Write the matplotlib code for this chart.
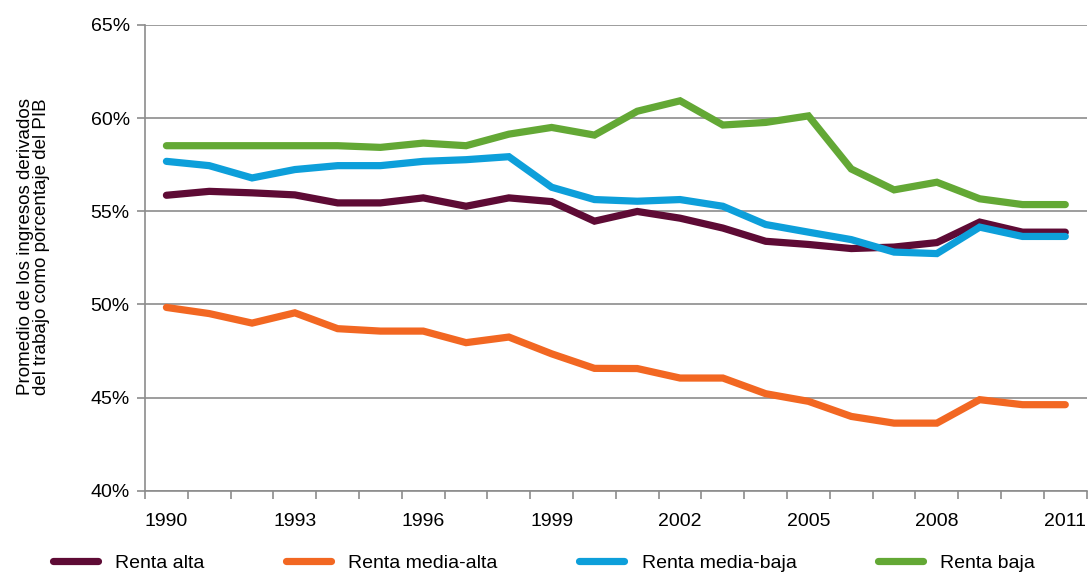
import matplotlib.pyplot as plt
from matplotlib.ticker import FixedLocator, FuncFormatter

plt.rcParams['font.family'] = ['Liberation Sans', 'DejaVu Sans']

years = list(range(1990, 2012))
renta_alta = [55.86, 56.07, 55.99, 55.88, 55.45, 55.45, 55.72, 55.27, 55.72, 55.52, 54.47,
              54.99, 54.63, 54.10, 53.39, 53.22, 53.00, 53.08, 53.32, 54.42, 53.88, 53.88]
renta_media_alta = [49.84, 49.51, 49.00, 49.55, 48.70, 48.57, 48.57, 47.95, 48.25, 47.35, 46.57,
                    46.56, 46.05, 46.05, 45.21, 44.80, 43.99, 43.63, 43.63, 44.89, 44.62, 44.62]
renta_media_baja = [57.68, 57.45, 56.79, 57.24, 57.45, 57.45, 57.68, 57.77, 57.93, 56.29, 55.63,
                    55.54, 55.63, 55.27, 54.29, 53.88, 53.48, 52.81, 52.73, 54.15, 53.65, 53.65]
renta_baja = [58.52, 58.52, 58.52, 58.52, 58.52, 58.43, 58.66, 58.52, 59.14, 59.50, 59.09,
              60.37, 60.93, 59.63, 59.77, 60.12, 57.27, 56.15, 56.56, 55.67, 55.36, 55.36]

series = [
    ("Renta alta", renta_alta, "#5E0B35"),
    ("Renta media-alta", renta_media_alta, "#F26722"),
    ("Renta media-baja", renta_media_baja, "#0D9FDA"),
    ("Renta baja", renta_baja, "#63A835"),
]

fig = plt.figure(figsize=(10.88, 5.74), dpi=100, facecolor="white")
ax = fig.add_axes([0.1333, 0.145, 0.8655, 0.8115])

x = list(range(len(years)))
for name, vals, col in series:
    ax.plot(x, vals, color=col, lw=5.2, label=name, solid_capstyle="round", solid_joinstyle="miter")

ax.set_xlim(-0.5, len(years) - 0.5)
ax.set_ylim(40, 65)
ax.set_yticks([40, 45, 50, 55, 60, 65])
ax.yaxis.set_major_formatter(FuncFormatter(lambda v, p: "%d%%" % v))
ax.grid(axis="y", color="#8C8C8C", lw=1.2)
ax.set_axisbelow(True)

ax.xaxis.set_major_locator(FixedLocator(x[::3]))
ax.set_xticklabels([str(y) for y in years[::3]])
ax.xaxis.set_minor_locator(FixedLocator([i - 0.5 for i in range(len(years) + 1)]))
ax.tick_params(axis="x", which="major", length=0, pad=16, labelsize=14)
ax.tick_params(axis="x", which="minor", length=6, color="#8C8C8C", width=1.2)
ax.tick_params(axis="y", length=6, color="#8C8C8C", width=1.2, labelsize=14, pad=5)

for s in ["top", "right"]:
    ax.spines[s].set_visible(False)
for s in ["left", "bottom"]:
    ax.spines[s].set_color("#8C8C8C")
    ax.spines[s].set_linewidth(1.2)

fig.text(0.031, 0.57, "Promedio de los ingresos derivados\ndel trabajo como porcentaje del PIB",
         rotation=90, ha="center", va="center", fontsize=13.5, linespacing=0.95)

fig.legend(loc="lower center", bbox_to_anchor=(0.5, -0.027), ncol=4, frameon=False,
           fontsize=14, handlelength=2.3, columnspacing=4.2, handletextpad=0.9)

fig.savefig("out.png", dpi=100, facecolor="white")
